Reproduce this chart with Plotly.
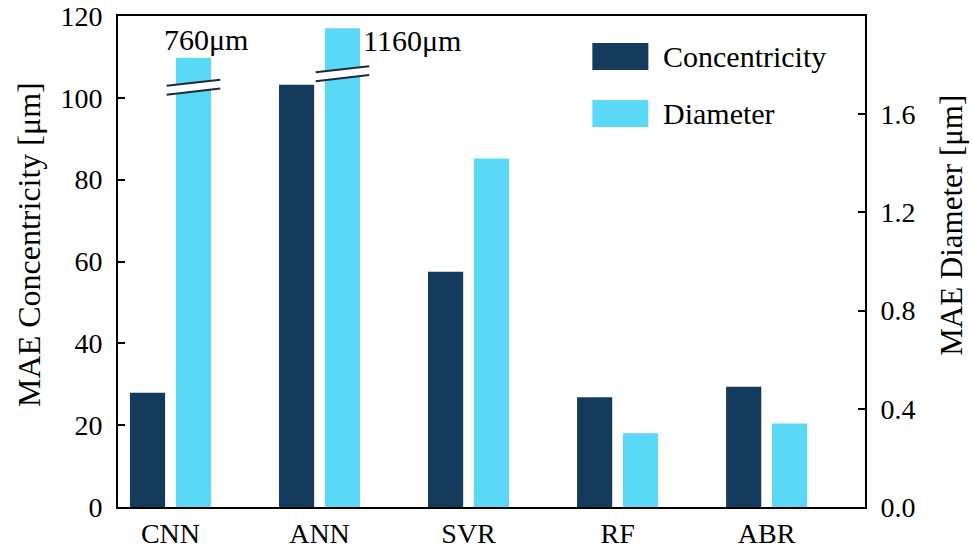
import plotly.graph_objects as go

# ---- data ----
categories = ["CNN", "ANN", "SVR", "RF", "ABR"]
concentricity = [27.9, 103.2, 57.5, 26.8, 29.4]          # µm, left axis
diameter_actual = [760, 1160, 1.42, 0.30, 0.34]          # µm, right axis
diameter_shown = [1.83, 1.95, 1.42, 0.30, 0.34]          # heights drawn (broken bars capped)
diameter_break_labels = ["760μm", "1160μm", "", "", ""]
break_centres = [1.71, 1.765, None, None, None]          # where the axis break marks sit
y_ticks_left = [0, 20, 40, 60, 80, 100, 120]
y_ticks_right = [0.0, 0.4, 0.8, 1.2, 1.6]

DARK = "#143a5c"
LIGHT = "#5bd8f6"
FONT = "Liberation Serif"
x_pos = list(range(len(categories)))
bar_w = 0.236
dark_off = -0.272
light_off = 0.036

fig = go.Figure()
fig.add_trace(go.Bar(
    x=x_pos, y=concentricity, width=bar_w, offset=dark_off,
    marker=dict(color=DARK, line=dict(width=0)), name="Concentricity",
    hovertext=categories, showlegend=False))
fig.add_trace(go.Bar(
    x=x_pos, y=diameter_shown, width=bar_w, offset=light_off,
    marker=dict(color=LIGHT, line=dict(width=0)), name="Diameter", yaxis="y2",
    customdata=diameter_actual, hovertemplate="%{customdata} µm<extra>Diameter</extra>",
    showlegend=False))

shapes = []
annotations = []
gap = 0.036
rise = 0.0125
for i, c in enumerate(break_centres):
    if c is None:
        continue
    xc = i + light_off + bar_w / 2
    x0, x1 = xc - 0.18, xc + 0.18
    shapes.append(dict(type="path", xref="x", yref="y2",
                       path=f"M {x0} {c - rise - gap/2} L {x1} {c + rise - gap/2} "
                            f"L {x1} {c + rise + gap/2} L {x0} {c - rise + gap/2} Z",
                       fillcolor="white", line=dict(width=0), layer="above"))
    for s in (-1, 1):
        shapes.append(dict(type="line", xref="x", yref="y2",
                           x0=x0, x1=x1,
                           y0=c - rise + s * gap / 2, y1=c + rise + s * gap / 2,
                           line=dict(color="#1b2b38", width=2), layer="above"))

annotations.append(dict(x=0 - 0.06, y=diameter_shown[0], xref="x", yref="y2",
                        text=diameter_break_labels[0], showarrow=False,
                        xanchor="left", yanchor="bottom",
                        font=dict(family=FONT, size=30, color="black")))
annotations.append(dict(x=1 + 0.28, y=1.90, xref="x", yref="y2",
                        text=diameter_break_labels[1], showarrow=False,
                        xanchor="left", yanchor="middle",
                        font=dict(family=FONT, size=30, color="black")))

# axis titles
annotations.append(dict(x=-0.119, y=0.534, xref="paper", yref="paper",
                        text="MAE Concentricity [μm]", textangle=-90, showarrow=False,
                        xanchor="center", yanchor="middle",
                        font=dict(family=FONT, size=32, color="black")))
annotations.append(dict(x=1.116, y=0.574, xref="paper", yref="paper",
                        text="MAE Diameter [μm]", textangle=-90, showarrow=False,
                        xanchor="center", yanchor="middle",
                        font=dict(family=FONT, size=31, color="black")))

leg = [("Concentricity", DARK, 0.945, 0.890), ("Diameter", LIGHT, 0.829, 0.774)]
for name, col, yt, yb in leg:
    shapes.append(dict(type="rect", xref="paper", yref="paper",
                       x0=0.635, x1=0.710, y0=yb, y1=yt,
                       fillcolor=col, line=dict(width=0)))
    annotations.append(dict(x=0.727, y=(yt + yb) / 2, xref="paper", yref="paper",
                            text=name, showarrow=False, xanchor="left", yanchor="middle",
                            font=dict(family=FONT, size=30, color="black")))

axis_line = dict(showline=True, linecolor="black", linewidth=2, showgrid=False,
                 zeroline=False, automargin=False)
fig.update_layout(
    width=972, height=552,
    margin=dict(l=118, r=107, t=16, b=45),
    plot_bgcolor="white", paper_bgcolor="white",
    barmode="overlay",
    font=dict(family=FONT, size=28, color="black"),
    xaxis=dict(**axis_line, mirror=True, range=[-0.352, 4.66], tickvals=x_pos,
               ticktext=categories, ticks="", tickfont=dict(size=28)),
    yaxis=dict(**axis_line, range=[0, 120], tickvals=y_ticks_left, ticks="inside",
               ticklen=7, tickwidth=2, tickcolor="black", tickfont=dict(size=28),
               ticklabelstandoff=8),
    yaxis2=dict(**axis_line, overlaying="y", side="right", range=[0, 2.0],
                tickvals=y_ticks_right, ticktext=[f"{v:.1f}" for v in y_ticks_right],
                ticks="inside", ticklen=7, tickwidth=2, tickcolor="black",
                tickfont=dict(size=28), ticklabelstandoff=8),
    shapes=shapes, annotations=annotations,
)

fig.write_html("out.html", config={"displayModeBar": False},
               post_script="document.body.style.margin='0';document.body.style.overflow='hidden';")
